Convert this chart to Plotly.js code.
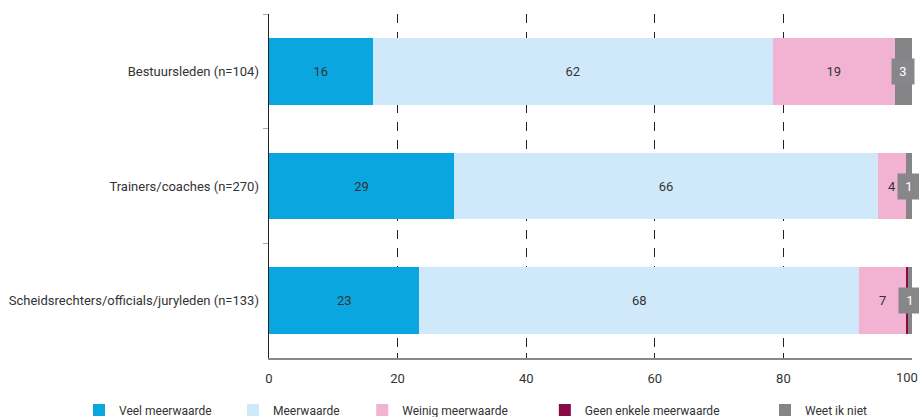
<!DOCTYPE html>
<html>
<head>
<meta charset="utf-8">
<script src="https://cdn.plot.ly/plotly-3.0.1.min.js"></script>
<style>
html,body{margin:0;padding:0;background:#fff;}
#chart{width:919px;height:417px;}
</style>
</head>
<body>
<div id="chart"></div>
<script>
var categories = ["Bestuursleden (n=104)", "Trainers/coaches (n=270)", "Scheidsrechters/officials/juryleden (n=133)"];
var seriesNames = ["Veel meerwaarde", "Meerwaarde", "Weinig meerwaarde", "Geen enkele meerwaarde", "Weet ik niet"];
var veel = [16.1, 28.8, 23.4];
var meer = [62.3, 65.9, 68.4];
var weinig = [18.9, 4.4, 7.3];
var geen = [0, 0, 0.3];
var weet = [2.7, 0.9, 0.6];
var xTicks = [0, 20, 40, 60, 80, 100];

var colors = ["#0aa6df", "#d0e9fa", "#f2b3d3", "#8a0a45", "#858588"];
var FONT = "Roboto, Lato, sans-serif";
var series = [veel, meer, weinig, geen, weet];
var legendIds = ["legend", "legend2", "legend3", "legend4", "legend5"];
var legendX = [-0.2955, -0.0560, 0.1450, 0.4290, 0.7714];

var traces = series.map(function (vals, i) {
  var showText = (i <= 2);
  return {
    type: "bar",
    orientation: "h",
    name: seriesNames[i],
    legend: legendIds[i],
    y: categories,
    x: vals,
    marker: {color: colors[i], line: {width: 0}},
    text: showText ? vals.map(function (v) { return String(Math.round(v)); }) : null,
    textposition: showText ? "inside" : "none",
    insidetextanchor: "middle",
    textangle: 0,
    insidetextfont: {family: FONT, size: 13, color: "#333"},
    hoverinfo: "skip",
    cliponaxis: false
  };
});

var annotations = categories.map(function (c, j) {
  var before = veel[j] + meer[j] + weinig[j] + geen[j];
  return {
    x: before + weet[j] / 2,
    y: c,
    xref: "x",
    yref: "y",
    text: String(Math.round(weet[j])),
    showarrow: false,
    font: {family: FONT, size: 13, color: "#fff"},
    bgcolor: "#87878a",
    borderpad: 5,
    width: 12
  };
});
// last x tick label, nudged left so it stays inside the page
var lastTick = xTicks[xTicks.length - 1];
annotations.push({
  x: lastTick, xref: "x", y: 0, yref: "paper", yanchor: "middle", yshift: -19, xshift: -5,
  text: String(lastTick), showarrow: false,
  font: {family: FONT, size: 13, color: "#333"}
});

var layout = {
  width: 919,
  height: 417,
  margin: {l: 269, r: 7, t: 14, b: 59, autoexpand: false},
  paper_bgcolor: "#fff",
  plot_bgcolor: "#fff",
  barmode: "stack",
  bargap: 0.416,
  font: {family: FONT, size: 13, color: "#333"},
  showlegend: true,
  xaxis: {
    range: [0, 100],
    tickvals: xTicks,
    ticktext: xTicks.map(function (t) { return t === lastTick ? "" : String(t); }),
    showgrid: true,
    gridcolor: "#222",
    griddash: "dash",
    gridwidth: 1,
    zeroline: false,
    showline: true,
    linecolor: "#888",
    linewidth: 1.5,
    ticks: "inside",
    ticklen: 5,
    tickcolor: "#222",
    ticklabelstandoff: 8,
    tickfont: {family: FONT, size: 13, color: "#333"},
    fixedrange: true
  },
  yaxis: {
    autorange: "reversed",
    type: "category",
    showgrid: false,
    zeroline: false,
    showline: true,
    linecolor: "#222",
    linewidth: 1,
    ticks: "outside",
    tickson: "boundaries",
    ticklen: 5,
    tickcolor: "#aaa",
    ticksuffix: "  ",
    tickfont: {family: FONT, size: 13, color: "#333"},
    fixedrange: true
  },
  annotations: annotations
};
legendIds.forEach(function (id, i) {
  layout[id] = {
    orientation: "h",
    x: legendX[i],
    xanchor: "left",
    y: -0.151,
    yanchor: "middle",
    itemwidth: 30,
    bgcolor: "rgba(0,0,0,0)",
    font: {family: FONT, size: 12, color: "#333"}
  };
});

Plotly.newPlot("chart", traces, layout, {displayModeBar: false, staticPlot: true});
</script>
</body>
</html>
